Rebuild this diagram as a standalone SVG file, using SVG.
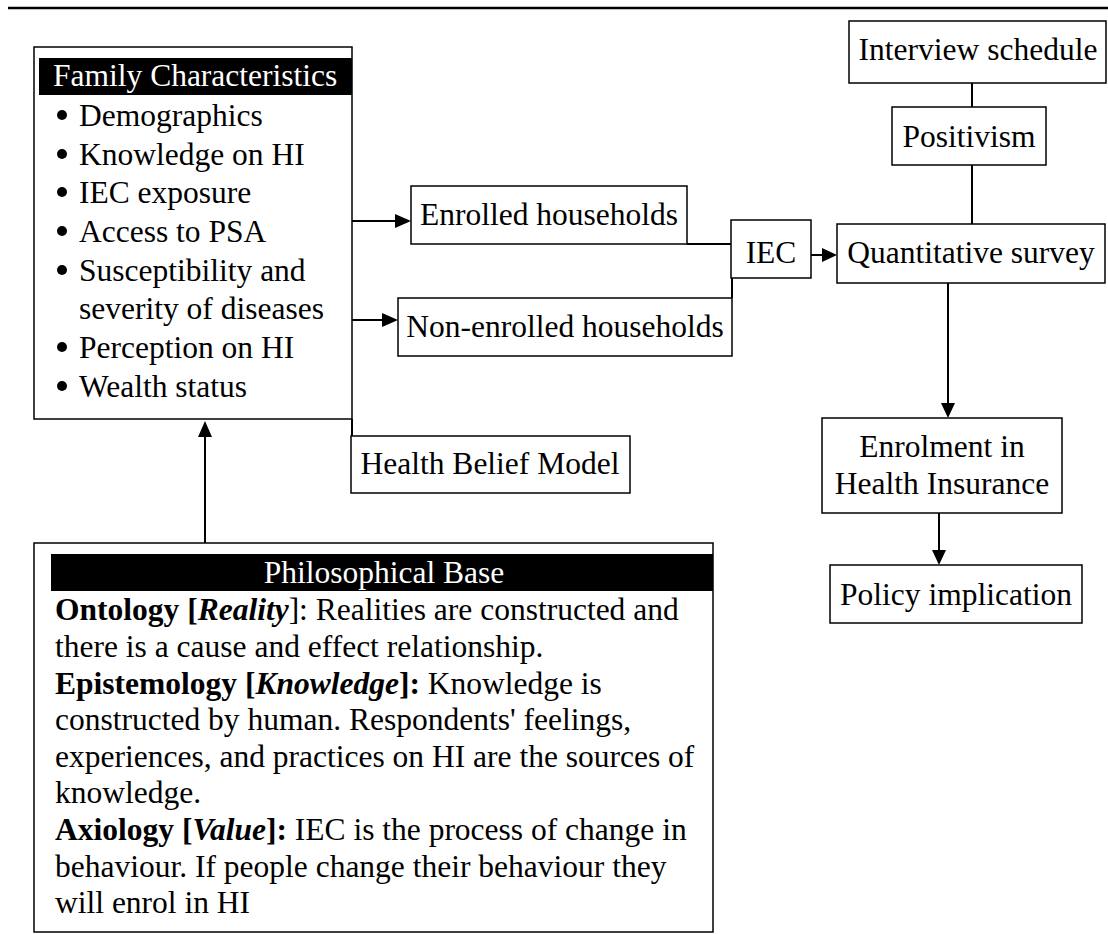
<svg xmlns="http://www.w3.org/2000/svg" width="1108" height="934" viewBox="0 0 1108 934">
<defs>
<marker id="ah" viewBox="0 0 16 14" refX="0" refY="7" markerWidth="16" markerHeight="14" markerUnits="userSpaceOnUse" orient="auto"><path d="M0,0 L16,7 L0,14 z" fill="#000"/></marker>
<marker id="ahs" viewBox="0 0 15 14" refX="0" refY="7" markerWidth="15" markerHeight="14" markerUnits="userSpaceOnUse" orient="auto"><path d="M0,0 L15,7 L0,14 z" fill="#000"/></marker>
</defs>
<style>
text{font-family:"Liberation Serif","Times New Roman",serif;font-size:31.5px;fill:#000}
.box{fill:#fff;stroke:#000;stroke-width:1.5}
.bar{fill:#000}
.hd{fill:#fff}
.c{text-anchor:middle}
.ln{stroke:#000;stroke-width:2;fill:none}
.b{font-weight:bold}
.bi{font-weight:bold;font-style:italic}
.dot{fill:#000}
</style>
<rect width="1108" height="934" fill="#fff"/>
<line x1="8" y1="8" x2="1108" y2="8" stroke="#000" stroke-width="2.5"/>

<g id="connectors">
<line class="ln" x1="352" y1="221" x2="395" y2="221" stroke-width="3.5" marker-end="url(#ah)"/>
<line class="ln" x1="352" y1="320" x2="382" y2="320" marker-end="url(#ah)"/>
<polyline class="ln" points="687,244 731,244"/>
<polyline class="ln" points="732,298 732,278"/>
<line class="ln" x1="811" y1="255" x2="822" y2="255" marker-end="url(#ahs)"/>
<line class="ln" x1="972" y1="83" x2="972" y2="107"/>
<line class="ln" x1="972" y1="165" x2="972" y2="224"/>
<line class="ln" x1="948" y1="283" x2="948" y2="403" marker-end="url(#ahs)"/>
<line class="ln" x1="939" y1="513" x2="939" y2="550" marker-end="url(#ahs)"/>
<line class="ln" x1="205" y1="543" x2="205" y2="437" marker-end="url(#ah)"/>
<line class="ln" x1="352" y1="419" x2="352" y2="436" stroke-width="1.5"/>
</g>

<g id="family">
<rect class="box" x="34" y="47" width="318" height="372"/>
<rect class="bar" x="39" y="58" width="313" height="37"/>
<text class="hd" x="53" y="86">Family Characteristics</text>
<circle class="dot" cx="62" cy="115" r="5"/><text x="79" y="126">Demographics</text>
<circle class="dot" cx="62" cy="154" r="5"/><text x="79" y="165">Knowledge on HI</text>
<circle class="dot" cx="62" cy="192" r="5"/><text x="79" y="203">IEC exposure</text>
<circle class="dot" cx="62" cy="231" r="5"/><text x="79" y="242">Access to PSA</text>
<circle class="dot" cx="62" cy="270" r="5"/><text x="79" y="281">Susceptibility and</text>
<text x="79" y="319">severity of diseases</text>
<circle class="dot" cx="62" cy="347" r="5"/><text x="79" y="358">Perception on HI</text>
<circle class="dot" cx="62" cy="386" r="5"/><text x="79" y="397">Wealth status</text>
</g>

<g id="enrolled">
<rect class="box" x="411" y="186" width="276" height="58"/>
<text class="c" x="549" y="225">Enrolled households</text>
</g>

<g id="nonenrolled">
<rect class="box" x="398" y="298" width="334" height="58"/>
<text class="c" x="565" y="337">Non-enrolled households</text>
</g>

<g id="hbm">
<rect class="box" x="351" y="436" width="279" height="57"/>
<text class="c" x="490" y="474">Health Belief Model</text>
</g>

<g id="iec">
<rect class="box" x="731" y="220" width="80" height="58"/>
<text class="c" x="771" y="263">IEC</text>
</g>

<g id="interview">
<rect class="box" x="849" y="21" width="257" height="62"/>
<text class="c" x="978" y="60">Interview schedule</text>
</g>

<g id="positivism">
<rect class="box" x="892" y="107" width="154" height="58"/>
<text class="c" x="969" y="147">Positivism</text>
</g>

<g id="quant">
<rect class="box" x="837" y="224" width="268" height="59"/>
<text class="c" x="971" y="263">Quantitative survey</text>
</g>

<g id="enrolment">
<rect class="box" x="822" y="418" width="240" height="95"/>
<text class="c" x="942" y="457">Enrolment in</text>
<text class="c" x="942" y="494">Health Insurance</text>
</g>

<g id="policy">
<rect class="box" x="830" y="565" width="252" height="58"/>
<text class="c" x="956" y="605">Policy implication</text>
</g>

<g id="philosophy">
<rect class="box" x="34" y="543" width="679" height="389"/>
<rect class="bar" x="51" y="554" width="662" height="37"/>
<text class="hd c" x="384" y="583">Philosophical Base</text>
<text x="55" y="620"><tspan class="b">Ontology [</tspan><tspan class="bi">Reality</tspan>]: Realities are constructed and</text>
<text x="55" y="657">there is a cause and effect relationship.</text>
<text x="55" y="694"><tspan class="b">Epistemology [</tspan><tspan class="bi">Knowledge</tspan><tspan class="b">]:</tspan> Knowledge is</text>
<text x="55" y="730">constructed by human. Respondents' feelings,</text>
<text x="55" y="767">experiences, and practices on HI are the sources of</text>
<text x="55" y="803">knowledge.</text>
<text x="55" y="840"><tspan class="b">Axiology [</tspan><tspan class="bi">Value</tspan><tspan class="b">]:</tspan> IEC is the process of change in</text>
<text x="55" y="877">behaviour. If people change their behaviour they</text>
<text x="55" y="913">will enrol in HI</text>
</g>
</svg>
